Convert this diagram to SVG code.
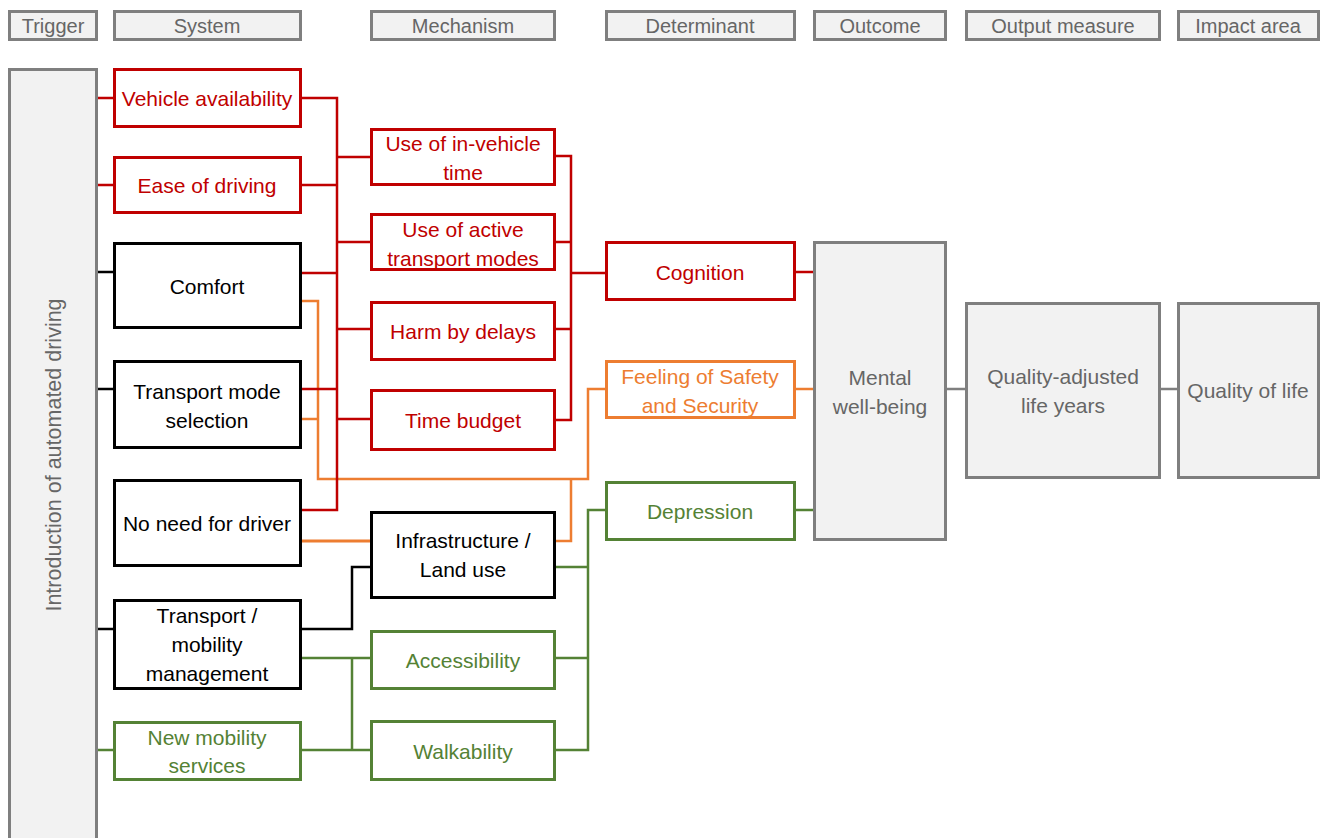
<svg xmlns="http://www.w3.org/2000/svg" width="1325" height="838" viewBox="0 0 1325 838">
  <style>
    text { font-family: "Liberation Sans", Arial, sans-serif; font-size: 21px; text-anchor: middle; dominant-baseline: central; }
    .hdr rect, .grey rect { fill: #f2f2f2; stroke: #7f7f7f; stroke-width: 3; }
    .hdr text { font-size: 20px; fill: #666666; }
    .grey text { fill: #666666; }
    .red rect { fill: #ffffff; stroke: #c00000; stroke-width: 3; }
    .red text { fill: #c00000; }
    .blk rect { fill: #ffffff; stroke: #000000; stroke-width: 3; }
    .blk text { fill: #000000; }
    .org rect { fill: #ffffff; stroke: #ed7d31; stroke-width: 3; }
    .org text { fill: #ed7d31; }
    .grn rect { fill: #ffffff; stroke: #548235; stroke-width: 3; }
    .grn text { fill: #548235; }
    .c { fill: none; stroke-width: 2.5; }
    .c-red { stroke: #c00000; }
    .c-org { stroke: #ed7d31; }
    .c-blk { stroke: #000000; }
    .c-grn { stroke: #548235; }
    .c-gry { stroke: #7f7f7f; }
  </style>

  <rect width="1325" height="838" fill="#ffffff"/>

  <!-- column headers -->
  <g id="headers" class="hdr">
    <g id="h-trigger"><rect x="9.5" y="11.5" width="87" height="28"/><text x="53" y="26">Trigger</text></g>
    <g id="h-system"><rect x="114.5" y="11.5" width="186" height="28"/><text x="207" y="26">System</text></g>
    <g id="h-mechanism"><rect x="371.5" y="11.5" width="183" height="28"/><text x="463" y="26">Mechanism</text></g>
    <g id="h-determinant"><rect x="606.5" y="11.5" width="188" height="28"/><text x="700" y="26">Determinant</text></g>
    <g id="h-outcome"><rect x="814.5" y="11.5" width="131" height="28"/><text x="880" y="26">Outcome</text></g>
    <g id="h-output"><rect x="966.5" y="11.5" width="193" height="28"/><text x="1063" y="26">Output measure</text></g>
    <g id="h-impact"><rect x="1178.5" y="11.5" width="140" height="28"/><text x="1248" y="26">Impact area</text></g>
  </g>

  <!-- connectors -->
  <g id="connectors">
    <!-- trigger to system -->
    <path class="c c-red" d="M97 98H114M97 185H114"/>
    <path class="c c-blk" d="M97 272H114M97 389H114M97 629H114"/>
    <path class="c c-grn" d="M97 750H114"/>

    <!-- orange safety paths -->
    <path class="c c-org" d="M301 301H318V479H588V389H606"/>
    <path class="c c-org" d="M301 419H318"/>
    <path class="c c-org" d="M301 541H371" style="stroke-width:3"/>
    <path class="c c-org" d="M555 541H571V479"/>

    <!-- red system to mechanism -->
    <path class="c c-red" d="M301 98H337V510H301"/>
    <path class="c c-red" d="M301 185H337M301 273H337M301 389H337"/>
    <path class="c c-red" d="M337 157H371M337 242H371M337 329H371M337 419H371"/>

    <!-- red mechanism to determinant -->
    <path class="c c-red" d="M555 156H571V420H555"/>
    <path class="c c-red" d="M555 242H571M555 329H571M571 273H606"/>

    <!-- black management to infrastructure -->
    <path class="c c-blk" d="M301 629H352V567H371"/>

    <!-- green accessibility paths -->
    <path class="c c-grn" d="M301 658H371M352 658V750M301 750H371"/>
    <path class="c c-grn" d="M555 567H588V510H606M588 510V750H555M555 658H588"/>

    <!-- determinant to outcome and beyond -->
    <path class="c c-red" d="M795 272H814"/>
    <path class="c c-org" d="M795 389H814"/>
    <path class="c c-grn" d="M795 510H814"/>
    <path class="c c-gry" d="M946 389H966M1160 389H1178"/>
  </g>

  <!-- trigger -->
  <g id="trigger" class="grey">
    <rect x="9.5" y="69.5" width="87" height="790"/>
    <text transform="translate(54 455) rotate(-90)" style="font-size:21.5px">Introduction of automated driving</text>
  </g>

  <!-- system -->
  <g id="vehicle-availability" class="red"><rect x="114.5" y="69.5" width="186" height="57"/><text x="207" y="98">Vehicle availability</text></g>
  <g id="ease-of-driving" class="red"><rect x="114.5" y="157.5" width="186" height="55"/><text x="207" y="185">Ease of driving</text></g>
  <g id="comfort" class="blk"><rect x="114.5" y="243.5" width="186" height="84"/><text x="207" y="286">Comfort</text></g>
  <g id="transport-mode-selection" class="blk"><rect x="114.5" y="361.5" width="186" height="86"/><text x="207" y="391">Transport mode</text><text x="207" y="420">selection</text></g>
  <g id="no-need-for-driver" class="blk"><rect x="114.5" y="480.5" width="186" height="85"/><text x="207" y="523">No need for driver</text></g>
  <g id="transport-management" class="blk"><rect x="114.5" y="600.5" width="186" height="88"/><text x="207" y="615">Transport /</text><text x="207" y="644">mobility</text><text x="207" y="673">management</text></g>
  <g id="new-mobility-services" class="grn"><rect x="114.5" y="722.5" width="186" height="57"/><text x="207" y="737">New mobility</text><text x="207" y="765">services</text></g>

  <!-- mechanism -->
  <g id="in-vehicle-time" class="red"><rect x="371.5" y="129.5" width="183" height="55"/><text x="463" y="143">Use of in-vehicle</text><text x="463" y="172">time</text></g>
  <g id="active-modes" class="red"><rect x="371.5" y="214.5" width="183" height="55"/><text x="463" y="229">Use of active</text><text x="463" y="258">transport modes</text></g>
  <g id="harm-by-delays" class="red"><rect x="371.5" y="302.5" width="183" height="57"/><text x="463" y="331">Harm by delays</text></g>
  <g id="time-budget" class="red"><rect x="371.5" y="390.5" width="183" height="59"/><text x="463" y="420">Time budget</text></g>
  <g id="infrastructure" class="blk"><rect x="371.5" y="512.5" width="183" height="85"/><text x="463" y="540">Infrastructure /</text><text x="463" y="569">Land use</text></g>
  <g id="accessibility" class="grn"><rect x="371.5" y="631.5" width="183" height="57"/><text x="463" y="660">Accessibility</text></g>
  <g id="walkability" class="grn"><rect x="371.5" y="721.5" width="183" height="58"/><text x="463" y="751">Walkability</text></g>

  <!-- determinant -->
  <g id="cognition" class="red"><rect x="606.5" y="242.5" width="188" height="57"/><text x="700" y="272">Cognition</text></g>
  <g id="safety" class="org"><rect x="606.5" y="361.5" width="188" height="56"/><text x="700" y="376">Feeling of Safety</text><text x="700" y="405">and Security</text></g>
  <g id="depression" class="grn"><rect x="606.5" y="482.5" width="188" height="57"/><text x="700" y="511">Depression</text></g>

  <!-- outcome, output measure, impact area -->
  <g id="mental-well-being" class="grey"><rect x="814.5" y="242.5" width="131" height="297"/><text x="880" y="377">Mental</text><text x="880" y="406">well-being</text></g>
  <g id="qaly" class="grey"><rect x="966.5" y="303.5" width="193" height="174"/><text x="1063" y="376">Quality-adjusted</text><text x="1063" y="405">life years</text></g>
  <g id="quality-of-life" class="grey"><rect x="1178.5" y="303.5" width="140" height="174"/><text x="1248" y="390">Quality of life</text></g>
</svg>
